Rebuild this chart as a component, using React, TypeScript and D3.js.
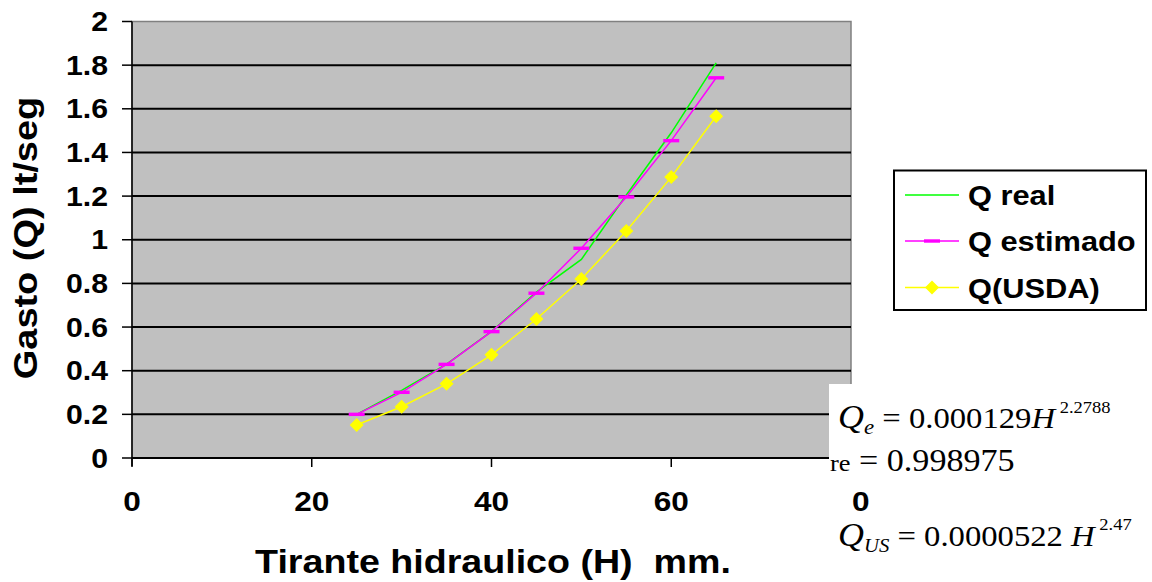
import React from "react";
import * as d3 from "d3";

const H = [25, 30, 35, 40, 45, 50, 55, 60, 65];
const qReal = [0.2, 0.31, 0.43, 0.58, 0.76, 0.91, 1.205, 1.49, 1.81];
const qEstimado = [0.2, 0.301, 0.429, 0.579, 0.755, 0.961, 1.196, 1.454, 1.742];
const qUsda = [0.151, 0.235, 0.34, 0.473, 0.637, 0.82, 1.04, 1.287, 1.566];
const xTicks = [0, 20, 40, 60];
const yTicks = [0, 0.2, 0.4, 0.6, 0.8, 1, 1.2, 1.4, 1.6, 1.8, 2];
const seriesNames = ["Q real", "Q estimado", "Q(USDA)"];

const SANS = "Arial, 'Liberation Sans', Helvetica, sans-serif";
const SERIF = "'Times New Roman', 'Liberation Serif', serif";

function SText({ x, y, sx = 1.15, anchor = "start", size, weight = "bold", family = SANS, rotate = 0, children }: any) {
  return (
    <text
      transform={`translate(${x},${y}) rotate(${rotate}) scale(${sx},1)`}
      textAnchor={anchor}
      fontSize={size}
      fontWeight={weight}
      fontFamily={family}
      fill="#000"
      xmlSpace="preserve"
      style={{ whiteSpace: "pre" }}
    >
      {children}
    </text>
  );
}

export default function App() {
  const W = 1152, Hh = 582;
  const left = 132, right = 851, top = 21.5, bottom = 458;
  const x = d3.scaleLinear().domain([0, 80]).range([left, right]);
  const y = d3.scaleLinear().domain([0, 2]).range([bottom, top]);
  const line = d3.line<number>().x((_, i) => x(H[i])).y((d) => y(d));

  const diamond = (cx: number, cy: number, r: number) =>
    `M${cx},${cy - r}L${cx + r},${cy}L${cx},${cy + r}L${cx - r},${cy}Z`;

  const legX = 894, legY = 170.5, legW = 252, legH = 139.5;
  const legRows = [195, 241, 287.5];

  return (
    <svg width={W} height={Hh} style={{ position: "absolute", left: 0, top: 0, background: "#fff" }}>
      {/* plot area */}
      <rect x={left} y={top} width={right - left} height={bottom - top} fill="#C0C0C0" stroke="#808080" strokeWidth={1.5} />
      {yTicks.filter((t) => t > 0 && t < 2).map((t) => (
        <line key={t} x1={left} x2={right} y1={y(t)} y2={y(t)} stroke="#000" strokeWidth={2} />
      ))}
      {/* axes */}
      <line x1={left} x2={left} y1={top} y2={bottom + 8} stroke="#000" strokeWidth={1.5} />
      <line x1={left} x2={right} y1={bottom} y2={bottom} stroke="#000" strokeWidth={2} />
      {yTicks.map((t) => (
        <line key={"yt" + t} x1={left - 10} x2={left} y1={y(t)} y2={y(t)} stroke="#000" strokeWidth={1.5} />
      ))}
      {xTicks.map((t) => (
        <line key={"xt" + t} x1={x(t)} x2={x(t)} y1={bottom} y2={bottom + 9} stroke="#000" strokeWidth={1.5} />
      ))}
      {/* series */}
      <path d={line(qReal) || ""} fill="none" stroke="#00FF00" strokeWidth={1.5} />
      <path d={line(qEstimado) || ""} fill="none" stroke="#FF00FF" strokeWidth={1.5} />
      {qEstimado.map((v, i) => (
        <rect key={"m" + i} x={x(H[i]) - 8} y={y(v) - 1.7} width={16} height={3.4} fill="#FF00FF" />
      ))}
      <path d={line(qUsda) || ""} fill="none" stroke="#FFFF00" strokeWidth={1.5} />
      {qUsda.map((v, i) => (
        <path key={"d" + i} d={diamond(x(H[i]), y(v), 7)} fill="#FFFF00" />
      ))}
      {/* tick labels */}
      {yTicks.map((t) => (
        <SText key={"yl" + t} x={108} y={y(t) + 9.5} anchor="end" size={27} sx={1.12}>
          {String(t)}
        </SText>
      ))}
      {xTicks.map((t) => (
        <SText key={"xl" + t} x={x(t)} y={511} anchor="middle" size={27} sx={1.17}>
          {String(t)}
        </SText>
      ))}
      {/* axis titles */}
      <SText x={493} y={573} anchor="middle" size={33} sx={1.14}>
        {"Tirante hidraulico (H)\u00A0\u00A0mm."}
      </SText>
      <SText x={37} y={238} anchor="middle" size={33} sx={1.15} rotate={-90}>
        Gasto (Q) lt/seg
      </SText>
      {/* legend */}
      <rect x={legX} y={legY} width={legW} height={legH} fill="#fff" stroke="#000" strokeWidth={2} />
      {seriesNames.map((n, i) => (
        <g key={n}>
          <line x1={905} x2={959} y1={legRows[i]} y2={legRows[i]}
            stroke={["#00FF00", "#FF00FF", "#FFFF00"][i]} strokeWidth={1.5} />
          {i === 1 && <rect x={924} y={legRows[i] - 1.7} width={16} height={3.4} fill="#FF00FF" />}
          {i === 2 && <path d={diamond(932, legRows[i], 7)} fill="#FFFF00" />}
          <SText x={968} y={legRows[i] + 10} size={28} sx={1.1}>{n}</SText>
        </g>
      ))}
      {/* equation box */}
      <rect x={829} y={384} width={W - 829} height={Hh - 384} fill="#fff" />
      <text transform="translate(838,428) scale(1.09,1)" fontFamily={SERIF} fill="#000">
        <tspan fontStyle="italic" fontSize={33}>Q</tspan>
        <tspan fontStyle="italic" fontSize={21} dy={6}>e</tspan>
        <tspan fontSize={30} dy={-6}> = 0.000129</tspan>
        <tspan fontStyle="italic" fontSize={30}>H</tspan>
        <tspan fontSize={17} dy={-15}> 2.2788</tspan>
      </text>
      <text transform="translate(830,471) scale(1.1,1)" fontFamily={SERIF} fill="#000">
        <tspan fontSize={24}>re</tspan>
        <tspan fontSize={31}> = 0.998975</tspan>
      </text>
      <SText x={852} y={511} size={27} sx={1.17}>0</SText>
      <text transform="translate(838,546) scale(1.09,1)" fontFamily={SERIF} fill="#000">
        <tspan fontStyle="italic" fontSize={33}>Q</tspan>
        <tspan fontStyle="italic" fontSize={19} dy={6}>US</tspan>
        <tspan fontSize={30} dy={-6}> = 0.0000522</tspan>
        <tspan fontStyle="italic" fontSize={30}> H</tspan>
        <tspan fontSize={17} dy={-16}> 2.47</tspan>
      </text>
    </svg>
  );
}
